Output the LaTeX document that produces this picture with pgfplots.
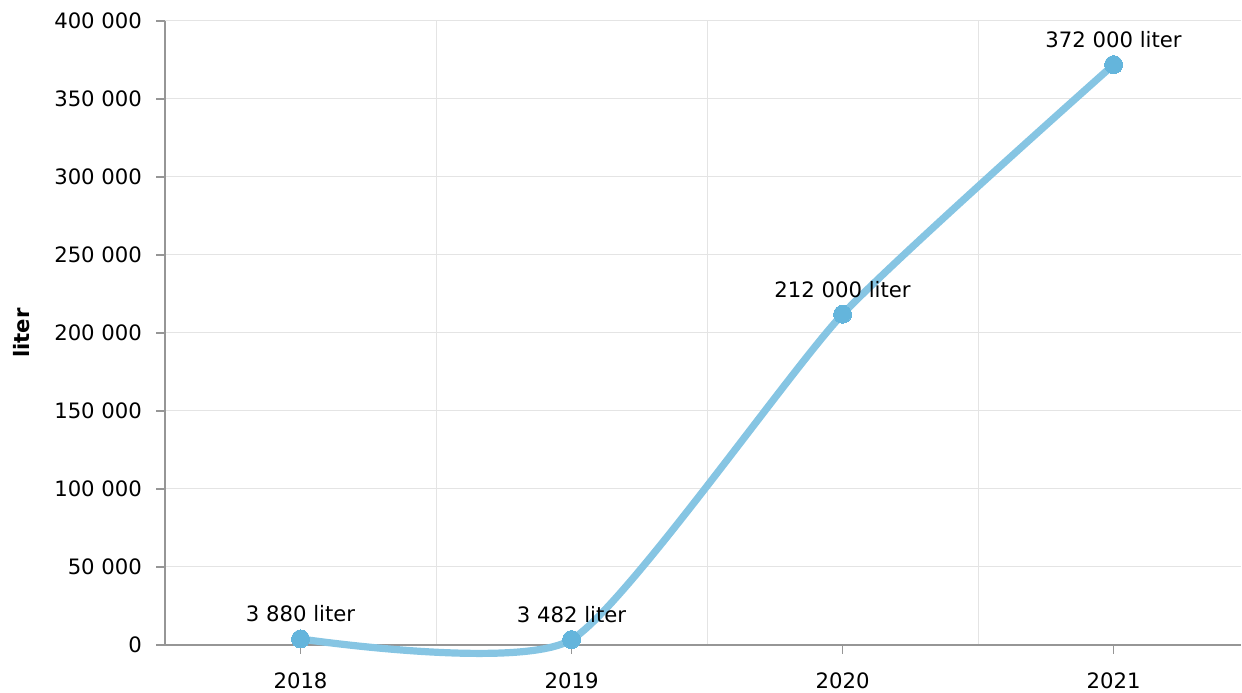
\documentclass[border=0pt]{standalone}
\usepackage{pgfplots}
\pgfplotsset{compat=1.18}
\usepackage{fontspec}
\setmainfont{DejaVu Sans}

\definecolor{lineblue}{RGB}{134,197,227}
\definecolor{dotblue}{RGB}{100,181,220}
\definecolor{gridgray}{RGB}{228,228,228}
\definecolor{axisgray}{RGB}{150,150,150}

\begin{document}
\begin{tikzpicture}[font=\fontsize{10.6}{12.7}\selectfont]
\begin{axis}[
    width=538pt, height=312pt, scale only axis,
    xmin=2017.5, xmax=2021.47,
    ymin=0, ymax=400000,
    xtick={2018,2019,2020,2021},
    xticklabels={2018,2019,2020,2021},
    minor xtick={2018.5,2019.5,2020.5},
    xminorgrids, ymajorgrids,
    ytick={0,50000,...,400000},
    scaled y ticks=false,
    /pgf/number format/.cd, fixed, 1000 sep={\ }, assume math mode=true,
    /pgfplots/.cd,
    axis x line*=bottom, axis y line*=left,
    axis line style={axisgray, line width=0.7pt, -},
    tick align=outside,
    major tick length=4.5pt, minor tick length=0pt,
    tick style={axisgray, line width=0.6pt},
    grid style={gridgray, line width=0.5pt},
    xticklabel style={yshift=-6pt},
    yticklabel style={xshift=-3.5pt},
    ylabel={\bfseries liter},
    ylabel style={at={(axis description cs:-0.1329,0.5)}, anchor=center},
    clip=false,
]
\coordinate (sw) at (rel axis cs:0,0);
\coordinate (ne) at (rel axis cs:1,1);
\addplot[lineblue, line width=3.6pt, smooth, tension=0.35,
    mark=*, mark size=4.5pt, mark options={fill=dotblue, draw=dotblue, line width=0pt},
    nodes near coords, point meta=explicit symbolic,
    every node near coord/.style={black, anchor=center, yshift=12.5pt}]
coordinates {
    (2018,3880) [3 880 liter]
    (2019,3482) [3 482 liter]
    (2020,212000) [212 000 liter]
    (2021,372000) [372 000 liter]
};
\end{axis}
\pgfresetboundingbox
\path ([xshift=-82.5pt,yshift=-24pt]sw) rectangle ([xshift=0.5pt,yshift=10.5pt]ne);
\end{tikzpicture}
\end{document}
